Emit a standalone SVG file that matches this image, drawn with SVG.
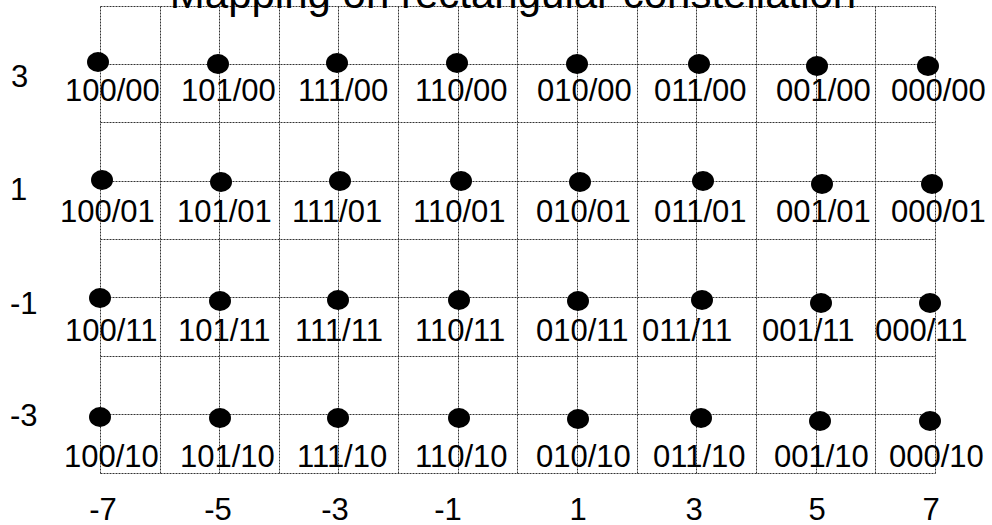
<svg xmlns="http://www.w3.org/2000/svg" width="992" height="525" viewBox="0 0 992 525">
<style>
.grid line{stroke:#333;stroke-width:1;stroke-dasharray:2 1;fill:none}
text{font-family:"Liberation Sans",Arial,sans-serif;fill:#000}
.lbl{font-size:31px}
.ax{font-size:31px}
.title{font-size:42px}
.dot{fill:#000}
</style>
<rect width="992" height="525" fill="#fff"/>
<g id="grid" class="grid">
<line x1="100.5" y1="6.5" x2="100.5" y2="473.5"/>
<line x1="160.5" y1="6.5" x2="160.5" y2="473.5"/>
<line x1="219.5" y1="6.5" x2="219.5" y2="473.5"/>
<line x1="279.5" y1="6.5" x2="279.5" y2="473.5"/>
<line x1="338.5" y1="6.5" x2="338.5" y2="473.5"/>
<line x1="398.5" y1="6.5" x2="398.5" y2="473.5"/>
<line x1="458.5" y1="6.5" x2="458.5" y2="473.5"/>
<line x1="517.5" y1="6.5" x2="517.5" y2="473.5"/>
<line x1="577.5" y1="6.5" x2="577.5" y2="473.5"/>
<line x1="637.5" y1="6.5" x2="637.5" y2="473.5"/>
<line x1="696.5" y1="6.5" x2="696.5" y2="473.5"/>
<line x1="756.5" y1="6.5" x2="756.5" y2="473.5"/>
<line x1="816.5" y1="6.5" x2="816.5" y2="473.5"/>
<line x1="875.5" y1="6.5" x2="875.5" y2="473.5"/>
<line x1="935.5" y1="6.5" x2="935.5" y2="473.5"/>
<line x1="100.5" y1="6.5" x2="935.5" y2="6.5"/>
<line x1="100.5" y1="64.5" x2="935.5" y2="64.5"/>
<line x1="100.5" y1="122.5" x2="935.5" y2="122.5"/>
<line x1="100.5" y1="181.5" x2="935.5" y2="181.5"/>
<line x1="100.5" y1="239.5" x2="935.5" y2="239.5"/>
<line x1="100.5" y1="297.5" x2="935.5" y2="297.5"/>
<line x1="100.5" y1="356.5" x2="935.5" y2="356.5"/>
<line x1="100.5" y1="414.5" x2="935.5" y2="414.5"/>
<line x1="100.5" y1="473.5" x2="935.5" y2="473.5"/>
</g>
<text id="title" class="title" x="513" y="8" text-anchor="middle">Mapping on rectangular constellation</text>
<g id="yaxis" class="ax">
<text x="11" y="87">3</text>
<text x="10" y="200">1</text>
<text x="10" y="314">-1</text>
<text x="10" y="426">-3</text>
</g>
<g id="xaxis" class="ax" text-anchor="middle">
<text x="103" y="520">-7</text>
<text x="218" y="520">-5</text>
<text x="335" y="520">-3</text>
<text x="448" y="520">-1</text>
<text x="578" y="520">1</text>
<text x="694" y="520">3</text>
<text x="817" y="520">5</text>
<text x="931" y="520">7</text>
</g>
<g id="row1">
<g id="p100_00"><ellipse class="dot" cx="98" cy="62" rx="11" ry="10"/><text class="lbl" x="65" y="101">100/00</text></g>
<g id="p101_00"><ellipse class="dot" cx="218" cy="64" rx="11" ry="10"/><text class="lbl" x="181" y="101">101/00</text></g>
<g id="p111_00"><ellipse class="dot" cx="337" cy="63" rx="11" ry="10"/><text class="lbl" x="298" y="101">111/00</text></g>
<g id="p110_00"><ellipse class="dot" cx="457" cy="63" rx="11" ry="10"/><text class="lbl" x="415" y="101">110/00</text></g>
<g id="p010_00"><ellipse class="dot" cx="577" cy="64" rx="11" ry="10"/><text class="lbl" x="537" y="101">010/00</text></g>
<g id="p011_00"><ellipse class="dot" cx="699" cy="64" rx="11" ry="10"/><text class="lbl" x="654" y="101">011/00</text></g>
<g id="p001_00"><ellipse class="dot" cx="817" cy="66" rx="11" ry="10"/><text class="lbl" x="776" y="101">001/00</text></g>
<g id="p000_00"><ellipse class="dot" cx="928" cy="66" rx="11" ry="10"/><text class="lbl" x="891" y="101">000/00</text></g>
</g>
<g id="row2">
<g id="p100_01"><ellipse class="dot" cx="102" cy="180" rx="11" ry="10"/><text class="lbl" x="60" y="222">100/01</text></g>
<g id="p101_01"><ellipse class="dot" cx="221" cy="182" rx="11" ry="10"/><text class="lbl" x="177" y="222">101/01</text></g>
<g id="p111_01"><ellipse class="dot" cx="340" cy="181" rx="11" ry="10"/><text class="lbl" x="292" y="222">111/01</text></g>
<g id="p110_01"><ellipse class="dot" cx="461" cy="181" rx="11" ry="10"/><text class="lbl" x="413" y="222">110/01</text></g>
<g id="p010_01"><ellipse class="dot" cx="580" cy="182" rx="11" ry="10"/><text class="lbl" x="536" y="222">010/01</text></g>
<g id="p011_01"><ellipse class="dot" cx="703" cy="181" rx="11" ry="10"/><text class="lbl" x="654" y="222">011/01</text></g>
<g id="p001_01"><ellipse class="dot" cx="822" cy="184" rx="11" ry="10"/><text class="lbl" x="776" y="222">001/01</text></g>
<g id="p000_01"><ellipse class="dot" cx="932" cy="184" rx="11" ry="10"/><text class="lbl" x="891" y="222">000/01</text></g>
</g>
<g id="row3">
<g id="p100_11"><ellipse class="dot" cx="100" cy="298" rx="11" ry="10"/><text class="lbl" x="65" y="341">100/11</text></g>
<g id="p101_11"><ellipse class="dot" cx="220" cy="301" rx="11" ry="10"/><text class="lbl" x="178" y="341">101/11</text></g>
<g id="p111_11"><ellipse class="dot" cx="338" cy="300" rx="11" ry="10"/><text class="lbl" x="295" y="341">111/11</text></g>
<g id="p110_11"><ellipse class="dot" cx="459" cy="300" rx="11" ry="10"/><text class="lbl" x="415" y="341">110/11</text></g>
<g id="p010_11"><ellipse class="dot" cx="578" cy="301" rx="11" ry="10"/><text class="lbl" x="536" y="341">010/11</text></g>
<g id="p011_11"><ellipse class="dot" cx="702" cy="300" rx="11" ry="10"/><text class="lbl" x="642" y="341">011/11</text></g>
<g id="p001_11"><ellipse class="dot" cx="821" cy="303" rx="11" ry="10"/><text class="lbl" x="762" y="341">001/11</text></g>
<g id="p000_11"><ellipse class="dot" cx="930" cy="303" rx="11" ry="10"/><text class="lbl" x="875" y="341">000/11</text></g>
</g>
<g id="row4">
<g id="p100_10"><ellipse class="dot" cx="100" cy="417" rx="11" ry="10"/><text class="lbl" x="64" y="467">100/10</text></g>
<g id="p101_10"><ellipse class="dot" cx="220" cy="418" rx="11" ry="10"/><text class="lbl" x="180" y="467">101/10</text></g>
<g id="p111_10"><ellipse class="dot" cx="338" cy="418" rx="11" ry="10"/><text class="lbl" x="297" y="467">111/10</text></g>
<g id="p110_10"><ellipse class="dot" cx="459" cy="418" rx="11" ry="10"/><text class="lbl" x="415" y="467">110/10</text></g>
<g id="p010_10"><ellipse class="dot" cx="578" cy="419" rx="11" ry="10"/><text class="lbl" x="536" y="467">010/10</text></g>
<g id="p011_10"><ellipse class="dot" cx="701" cy="418" rx="11" ry="10"/><text class="lbl" x="653" y="467">011/10</text></g>
<g id="p001_10"><ellipse class="dot" cx="820" cy="421" rx="11" ry="10"/><text class="lbl" x="774" y="467">001/10</text></g>
<g id="p000_10"><ellipse class="dot" cx="930" cy="421" rx="11" ry="10"/><text class="lbl" x="889" y="467">000/10</text></g>
</g>
</svg>
